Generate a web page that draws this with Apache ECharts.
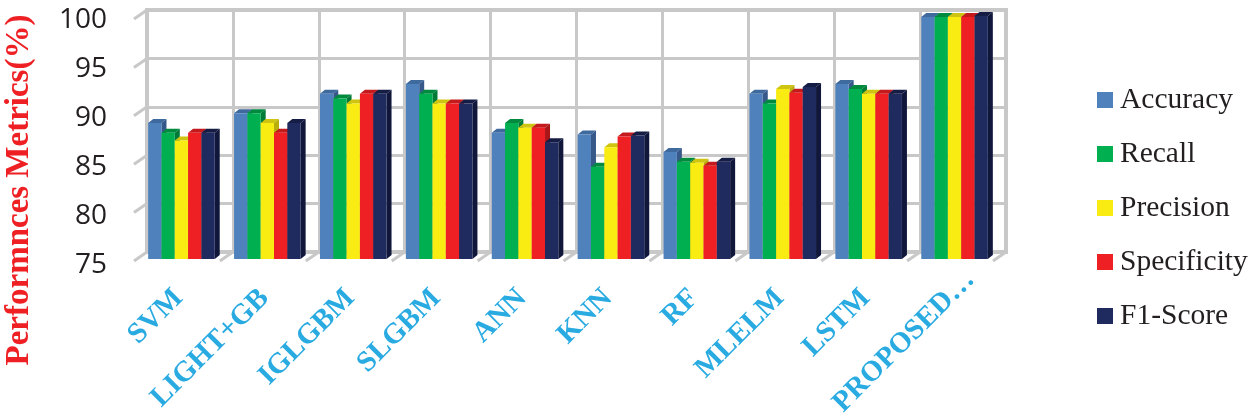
<!DOCTYPE html>
<html>
<head>
<meta charset="utf-8">
<style>html,body{margin:0;padding:0;background:#fff}#chart{width:1250px;height:416px}</style>
<script src="https://cdn.jsdelivr.net/npm/echarts@6/dist/echarts.min.js"></script>
</head>
<body>
<div id="chart"></div>
<script>
const categories = ['SVM', 'LIGHT+GB', 'IGLGBM', 'SLGBM', 'ANN', 'KNN', 'RF', 'MLELM', 'LSTM', 'PROPOSED…']
const accuracy = [89, 90, 92, 93, 88, 87.8, 86, 92, 93, 99.9]
const recall = [88, 90, 91.5, 92, 89, 84.5, 85, 91, 92.5, 99.9]
const precision = [87.2, 89, 91, 91, 88.5, 86.5, 84.9, 92.5, 92, 99.9]
const specificity = [88, 88, 92, 91, 88.5, 87.6, 84.6, 92.1, 92, 99.9]
const f1Score = [88, 89, 92, 91, 87, 87.7, 85, 92.7, 92, 100]
const yTicks = [75, 80, 85, 90, 95, 100]

const seriesDefs = [
  { name: 'Accuracy', data: accuracy, color: '#4f81bd', top: '#3f6a9e', side: '#37598a' },
  { name: 'Recall', data: recall, color: '#00b050', top: '#008a3e', side: '#007a37' },
  { name: 'Precision', data: precision, color: '#f9ec13', top: '#cfc40f', side: '#b8ae0c' },
  { name: 'Specificity', data: specificity, color: '#ee2024', top: '#c41a1d', side: '#a81618' },
  { name: 'F1-Score', data: f1Score, color: '#1f2a5e', top: '#151d45', side: '#10173a' }
]

const serif = '"Liberation Serif", serif'
const wallColor = '#c8c8c8'
const depthX = 5
const depthY = 4

// one 3d bar: front, top and side faces
function bar3d(def, index) {
  return function(params, api) {
    const i = api.value(0)
    const v = api.value(1)
    const band = api.size([1, 0])[0]
    const w = band * 0.155
    const c = api.coord([i, v])
    const base = api.coord([i, 75])
    const x = c[0] - 2.5 * w + index * w
    return {
      type: 'group',
      children: [
        {
          type: 'polygon',
          shape: { points: [[x, c[1]], [x + depthX, c[1] - depthY], [x + w + depthX, c[1] - depthY], [x + w, c[1]]] },
          style: { fill: def.top }
        },
        {
          type: 'polygon',
          shape: { points: [[x + w, c[1]], [x + w + depthX, c[1] - depthY], [x + w + depthX, base[1] - depthY], [x + w, base[1]]] },
          style: { fill: def.side }
        },
        {
          type: 'rect',
          shape: { x: x, y: c[1], width: w, height: base[1] - c[1] },
          style: { fill: def.color }
        }
      ]
    }
  }
}

// short slanted marks in front of the back wall
function slantTick(params, api) {
  const c = api.coord([api.value(0), api.value(1)])
  return {
    type: 'line',
    shape: { x1: c[0], y1: c[1], x2: c[0] - 13, y2: c[1] + 9 },
    style: { stroke: wallColor, lineWidth: 3 }
  }
}

const chart = echarts.init(document.getElementById('chart'), null, { renderer: 'canvas' })

const yTickMarks = yTicks.map(t => [0, t])
const xTickMarks = categories.map((c, i) => [i + 1, 75])

const hiddenValueX = {
  type: 'value',
  min: 0,
  max: 10,
  interval: 1,
  axisLabel: { show: false },
  axisTick: { show: false },
  axisLine: { show: false }
}

chart.setOption({
  animation: false,
  backgroundColor: '#fff',
  legend: {
    orient: 'vertical',
    left: 1092,
    top: 80,
    itemWidth: 16,
    itemHeight: 16,
    itemGap: 24,
    icon: 'rect',
    textStyle: { fontFamily: serif, fontSize: 29.5, color: '#231f20', padding: [0, 0, 0, 2] },
    data: seriesDefs.map(d => d.name)
  },
  graphic: [
    {
      type: 'text',
      x: 19,
      y: 190,
      rotation: Math.PI / 2,
      style: {
        text: 'Performnces Metrics(%)',
        fontFamily: serif,
        fontWeight: 'bold',
        fontSize: 33,
        fill: '#ee2024',
        textAlign: 'center',
        textVerticalAlign: 'middle'
      }
    }
  ],
  grid: [
    // back wall
    { left: 147, top: 10, width: 859, height: 242, outerBoundsMode: 'none', show: true, borderColor: wallColor, borderWidth: 4 },
    // front plane with the bars
    { left: 138.5, top: 16, width: 859, height: 243, outerBoundsMode: 'none' },
    // tick labels sit a little lower than the bars
    { left: 107, top: 20, width: 10, height: 245, outerBoundsMode: 'none' }
  ],
  xAxis: [
    Object.assign({ gridIndex: 0, splitLine: { show: true, lineStyle: { color: wallColor, width: 3 } } }, hiddenValueX),
    {
      gridIndex: 1,
      type: 'category',
      // the truncated last label runs further up the slope than the others
      data: categories.map((c, i) => i === categories.length - 1
        ? { value: c, textStyle: { padding: [0, -22, 0, 0] } }
        : c),
      axisLine: { show: false },
      axisTick: { show: false },
      axisLabel: {
        interval: 0,
        rotate: 45,
        margin: 32,
        padding: [0, 4, 0, 0],
        fontFamily: serif,
        fontWeight: 'bold',
        fontSize: 29,
        color: '#29abe2'
      }
    },
    Object.assign({ gridIndex: 2, splitLine: { show: false } }, hiddenValueX)
  ],
  yAxis: [
    {
      gridIndex: 0,
      type: 'value',
      min: 75,
      max: 100,
      interval: 5,
      axisLabel: { show: false },
      axisTick: { show: false },
      axisLine: { show: false },
      splitLine: { show: true, lineStyle: { color: wallColor, width: 3 } }
    },
    {
      gridIndex: 1,
      type: 'value',
      min: 75,
      max: 100,
      interval: 5,
      axisLabel: { show: false },
      axisLine: { show: false },
      axisTick: { show: false },
      splitLine: { show: false }
    },
    {
      gridIndex: 2,
      type: 'value',
      min: 75,
      max: 100,
      interval: 5,
      axisLine: { show: false },
      axisTick: { show: false },
      splitLine: { show: false },
      axisLabel: { fontFamily: '"Open Sans", sans-serif', fontSize: 28, color: '#231f20', margin: 0 }
    }
  ],
  series: [
    {
      type: 'custom',
      xAxisIndex: 0,
      yAxisIndex: 0,
      renderItem: slantTick,
      data: yTickMarks.concat(xTickMarks),
      silent: true,
      legendHoverLink: false,
      z: 1
    }
  ].concat(seriesDefs.map((d, s) => ({
    name: d.name,
    type: 'custom',
    xAxisIndex: 1,
    yAxisIndex: 1,
    itemStyle: { color: d.color },
    renderItem: bar3d(d, s),
    encode: { x: 0, y: 1 },
    data: d.data.map((v, i) => [i, v]),
    z: 2
  })))
})
</script>
</body>
</html>
